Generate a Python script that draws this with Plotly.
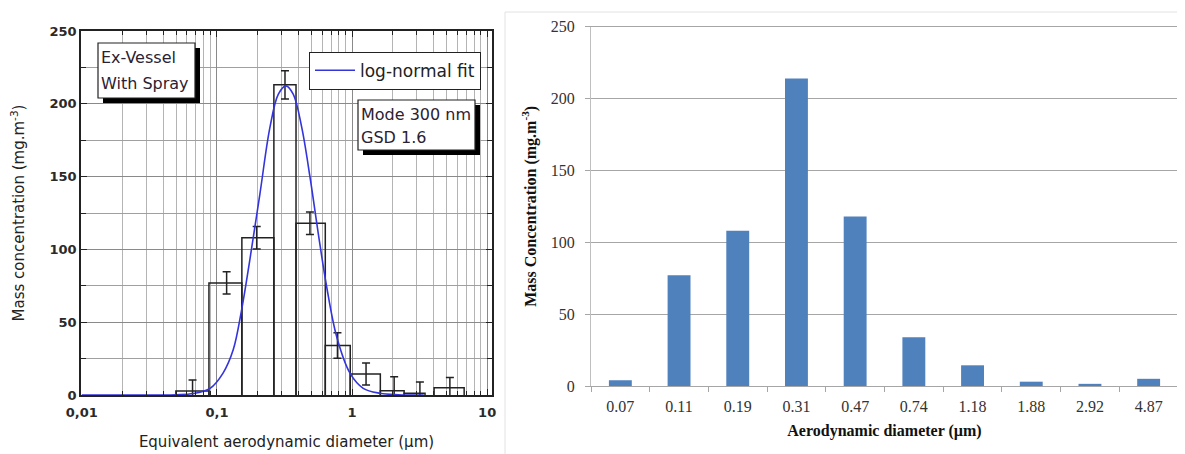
import plotly.graph_objects as go

# Window is 1185x454; the page body adds an 8 px margin, so the figure is
# sized to fit and reference pixel positions are shifted by that offset.
OFF = 8
W, H = 1185 - OFF, 454 - OFF


def px_x(p):
    return (p - OFF) / W


def px_y(p):
    return 1 - (p - OFF) / H


# ---------------- Left panel data (impactor histogram) ----------------
bin_lo = [0.0497, 0.0873, 0.153, 0.264, 0.385, 0.634, 0.970, 1.62, 2.43, 4.05]
bin_hi = [0.0873, 0.153, 0.264, 0.385, 0.634, 0.970, 1.62, 2.43, 3.47, 6.76]
left_mass = [2.7, 77, 108, 213, 118, 34, 14.4, 3, 1.2, 5]
left_err = [7.6, 7.7, 7.7, 9.7, 7.7, 8.8, 7.6, 9.5, 7.7, 7.0]
err_x = [0.066, 0.118, 0.197, 0.319, 0.488, 0.78, 1.27, 2.05, 3.18, 5.3]

fit_x = [0.01, 0.02, 0.038, 0.05, 0.067, 0.089, 0.111, 0.132, 0.152, 0.175,
         0.208, 0.247, 0.285, 0.324, 0.367, 0.424, 0.489, 0.563, 0.65, 0.77,
         0.966, 1.21, 1.61, 2.2, 3.4]
fit_y = [0, 0, 0, 0.2, 1, 4.5, 15, 31, 58, 92.5,
         138, 184, 206.6, 212.3, 206.6, 184, 149.5, 110.7, 74, 40,
         15, 4.6, 1.2, 0.2, 0]

left_tickvals = [0.01, 0.1, 1, 10]
left_ticktext = ["0,01", "0,1", "1", "10"]

# ---------------- Right panel data (bar chart) ----------------
diam_labels = ["0.07", "0.11", "0.19", "0.31", "0.47", "0.74", "1.18", "1.88", "2.92", "4.87"]
right_mass = [4, 77, 108, 214, 118, 34, 14.4, 3, 1.5, 5]

LFONT = "DejaVu Sans"
RFONT = "Liberation Serif"

fig = go.Figure()

# histogram outlines
hx, hy = [], []
for lo, hi, h in zip(bin_lo, bin_hi, left_mass):
    hx += [lo, lo, hi, hi, None]
    hy += [0, h, h, 0, None]
fig.add_trace(go.Scatter(x=hx, y=hy, mode="lines", xaxis="x", yaxis="y",
                         line=dict(color="#222222", width=1.5),
                         showlegend=False, hoverinfo="skip"))

# error bars
fig.add_trace(go.Scatter(x=err_x, y=left_mass, mode="markers", xaxis="x", yaxis="y",
                         marker=dict(size=1, color="rgba(0,0,0,0)"),
                         error_y=dict(type="data", array=left_err, color="#222222",
                                      thickness=1.5, width=4),
                         showlegend=False))

# log-normal fit
fig.add_trace(go.Scatter(x=fit_x, y=fit_y, mode="lines", xaxis="x", yaxis="y",
                         name="log-normal fit",
                         line=dict(color="#3434dc", width=1.6, shape="spline", smoothing=1.0)))

# right bars
fig.add_trace(go.Bar(x=diam_labels, y=right_mass, xaxis="x2", yaxis="y2",
                     marker=dict(color="#4f81bd", line=dict(width=0)),
                     showlegend=False))

minor_vals = [k * 10 ** d for d in (-2, -1, 0) for k in range(2, 10)]

fig.update_layout(
    width=W, height=H,
    margin=dict(l=0, r=0, t=0, b=0, autoexpand=False),
    paper_bgcolor="white", plot_bgcolor="white",
    bargap=0.61,
    xaxis=dict(
        type="log", domain=[px_x(81), px_x(492)], range=[-2.006, 1.036],
        anchor="y", automargin=False,
        tickmode="array", tickvals=left_tickvals, ticktext=left_ticktext,
        tickfont=dict(family=LFONT, size=13, color="#2a2a2a", weight="bold"),
        ticks="inside", ticklen=6, tickwidth=1.2, tickcolor="#222",
        ticklabelstandoff=5,
        showline=True, linecolor="#222", linewidth=1.5, mirror="allticks",
        showgrid=True, gridcolor="#8a8a8a", gridwidth=1,
        minor=dict(tickmode="array", tickvals=minor_vals, ticks="inside", ticklen=4,
                   tickcolor="#222", showgrid=True, gridcolor="#b4b4b4", gridwidth=1),
        title=dict(text="Equivalent aerodynamic diameter (µm)",
                   font=dict(family=LFONT, size=15, color="#222"), standoff=17),
        zeroline=False,
    ),
    yaxis=dict(
        domain=[px_y(395), px_y(31)], range=[0, 250], anchor="x", automargin=False,
        tickmode="linear", tick0=0, dtick=50,
        tickfont=dict(family=LFONT, size=13, color="#2a2a2a", weight="bold"),
        ticks="inside", ticklen=6, tickwidth=1.2, tickcolor="#222",
        showline=True, linecolor="#222", linewidth=1.5, mirror="allticks",
        showgrid=True, gridcolor="#8a8a8a", gridwidth=1,
        minor=dict(dtick=25, ticks="inside", ticklen=5, tickcolor="#222",
                   showgrid=True, gridcolor="#a0a0a0", gridwidth=1),
        title=dict(text="Mass concentration (mg.m<sup>-3</sup>)",
                   font=dict(family=LFONT, size=15, color="#222"), standoff=22),
        zeroline=False,
    ),
    xaxis2=dict(
        type="category", domain=[px_x(591), px_x(1178)], anchor="y2", automargin=False,
        tickfont=dict(family=RFONT, size=16, color="#333"),
        ticks="outside", tickson="boundaries", ticklen=5, tickcolor="#a6a6a6",
        ticklabelstandoff=6,
        showline=True, linecolor="#a6a6a6", linewidth=1, mirror=True,
        showgrid=False,
        title=dict(text="<b>Aerodynamic diameter (µm)</b>",
                   font=dict(family=RFONT, size=16, color="#111"), standoff=10),
    ),
    yaxis2=dict(
        domain=[px_y(386), px_y(26.7)], range=[0, 250], anchor="x2", automargin=False,
        tickmode="linear", tick0=0, dtick=50,
        tickfont=dict(family=RFONT, size=16, color="#333"),
        ticks="outside", ticklen=5, tickcolor="#a6a6a6",
        ticklabelstandoff=7,
        showline=True, linecolor="#bfbfbf", linewidth=1, mirror=True,
        showgrid=True, gridcolor="#a6a6a6", gridwidth=1,
        title=dict(text="<b>Mass Concentration (mg.m<sup>-3</sup>)</b>",
                   font=dict(family=RFONT, size=16, color="#111"), standoff=10),
        zeroline=False,
    ),
    legend=dict(
        x=px_x(309), y=px_y(51.7), xanchor="left", yanchor="top",
        bgcolor="white", bordercolor="#222", borderwidth=1,
        font=dict(family=LFONT, size=17, color="#222"),
        itemwidth=40,
    ),
)

shapes = [
    # right panel outer frame
    dict(type="rect", xref="paper", yref="paper",
         x0=px_x(505), x1=px_x(1200), y0=px_y(470), y1=px_y(12),
         line=dict(color="#e2e2e2", width=1), layer="below"),
    # Ex-Vessel box shadow + box
    dict(type="rect", xref="paper", yref="paper",
         x0=px_x(103), x1=px_x(200), y0=px_y(103), y1=px_y(48),
         fillcolor="black", line=dict(width=0), layer="above"),
    dict(type="rect", xref="paper", yref="paper",
         x0=px_x(98), x1=px_x(195), y0=px_y(98), y1=px_y(43),
         fillcolor="white", line=dict(color="#222", width=1.2), layer="above"),
    # Mode box shadow + box
    dict(type="rect", xref="paper", yref="paper",
         x0=px_x(363), x1=px_x(480), y0=px_y(155), y1=px_y(105),
         fillcolor="black", line=dict(width=0), layer="above"),
    dict(type="rect", xref="paper", yref="paper",
         x0=px_x(358), x1=px_x(475), y0=px_y(150), y1=px_y(100),
         fillcolor="white", line=dict(color="#222", width=1.2), layer="above"),
]
fig.update_layout(shapes=shapes)

ann_font = dict(family=LFONT, size=16, color="#2a2233")
annotations = [
    dict(text="Ex-Vessel", x=px_x(99), y=px_y(58), xref="paper", yref="paper",
         xanchor="left", yanchor="middle", showarrow=False, font=ann_font),
    dict(text="With Spray", x=px_x(99), y=px_y(83), xref="paper", yref="paper",
         xanchor="left", yanchor="middle", showarrow=False, font=ann_font),
    dict(text="Mode 300 nm", x=px_x(359), y=px_y(114), xref="paper", yref="paper",
         xanchor="left", yanchor="middle", showarrow=False, font=ann_font),
    dict(text="GSD 1.6", x=px_x(359), y=px_y(138), xref="paper", yref="paper",
         xanchor="left", yanchor="middle", showarrow=False, font=ann_font),
]
fig.update_layout(annotations=annotations)

fig.write_html("out.html")
